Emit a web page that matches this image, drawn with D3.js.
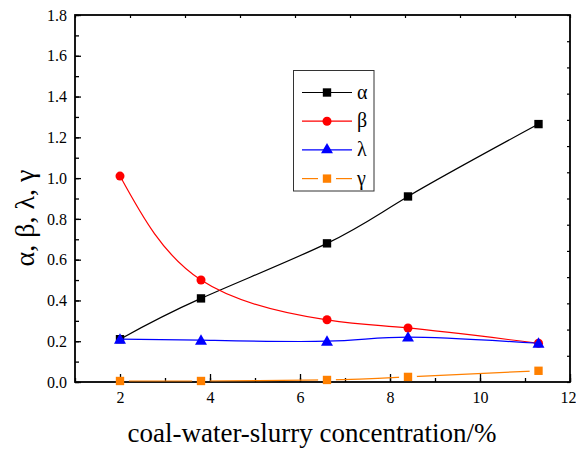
<!DOCTYPE html>
<html><head><meta charset="utf-8">
<script src="https://cdn.jsdelivr.net/npm/d3@7"></script>
</head>
<body style="margin:0;padding:0;background:#fff;"><svg id="c" width="576" height="452" style="display:block" font-family="Liberation Serif"></svg>
<script>
const xs = [2, 3.8, 6.6, 8.4, 11.3];
const alpha = [0.21, 0.41, 0.68, 0.91, 1.265];
const beta = [1.01, 0.50, 0.305, 0.265, 0.19];
const lambda = [0.21, 0.205, 0.20, 0.22, 0.19];
const gamma = [0.005, 0.005, 0.01, 0.025, 0.055];
const seriesNames = ["α", "β", "λ", "γ"];
const seriesColors = ["#000000", "#ff0000", "#0000ff", "#ff8000"];
const seriesSymbols = ["square", "circle", "triangle", "square"];
const xTicks = [2, 4, 6, 8, 10, 12];
const yTicks = [0.0, 0.2, 0.4, 0.6, 0.8, 1.0, 1.2, 1.4, 1.6, 1.8];
const xTitle = "coal-water-slurry concentration/%";
const yTitle = "α, β, λ, γ";

const FONT = "Liberation Serif";
const svg = d3.select("#c");
const L = 75, R = 570, T = 15, B = 382;
const x = d3.scaleLinear().domain([1, 12]).range([L, R]);
const y = d3.scaleLinear().domain([0, 1.8]).range([B, T]);

function setFont(sel) {
  sel.attr("font-family", FONT).style("font-family", `"${FONT}"`);
}

// bottom axis
const gx = svg.append("g").attr("transform", `translate(0,${B})`);
gx.call(d3.axisBottom(x).tickValues(d3.range(1, 12.01, 1)).tickSize(-4).tickFormat(""));
gx.append("g").call(d3.axisBottom(x).tickValues(xTicks).tickSize(-8).tickFormat(d => d));
gx.selectAll(".domain").remove();
setFont(gx); setFont(gx.selectAll("g"));
gx.selectAll("line").attr("stroke", "#000").attr("stroke-width", 1.3);
gx.selectAll("text").attr("font-size", 16).attr("fill", "#000").attr("y", 10).attr("dy", "0.71em")
  .attr("dx", d => d === 12 ? -2 : 0).call(setFont);

// left axis
const gy = svg.append("g").attr("transform", `translate(${L},0)`);
gy.call(d3.axisLeft(y).tickValues(d3.range(0, 1.81, 0.1)).tickSize(-4).tickFormat(""));
gy.append("g").call(d3.axisLeft(y).tickValues(yTicks).tickSize(-6).tickFormat(d3.format(".1f")));
gy.selectAll(".domain").remove();
setFont(gy); setFont(gy.selectAll("g"));
gy.selectAll("line").attr("stroke", "#000").attr("stroke-width", 1.3);
gy.selectAll("text").attr("font-size", 16).attr("fill", "#000").attr("x", -8).call(setFont);

// top axis (independent minor ticks)
const xt = d3.scaleLinear().domain([0, 9]).range([L, R]);
svg.append("g").attr("transform", `translate(0,${T})`)
  .call(d3.axisTop(xt).ticks(9).tickSize(-3).tickFormat(""))
  .call(g => g.select(".domain").remove())
  .selectAll("line").attr("stroke", "#000").attr("stroke-width", 1.2);
// right axis
const yr = d3.scaleLinear().domain([0, 14]).range([B, T]);
svg.append("g").attr("transform", `translate(${R},0)`)
  .call(d3.axisRight(yr).tickValues(d3.range(0, 15)).tickSize(-3).tickFormat(""))
  .call(g => g.select(".domain").remove())
  .selectAll("line").attr("stroke", "#000").attr("stroke-width", 1.2);

// frame
svg.append("rect").attr("x", L).attr("y", T).attr("width", R - L).attr("height", B - T)
  .attr("fill", "none").attr("stroke", "#000").attr("stroke-width", 1.8);

// data
const allSeries = [alpha, beta, lambda, gamma];
const line = d3.line().x(d => x(d[0])).y(d => y(d[1])).curve(d3.curveNatural);
const symSize = {square: 70, circle: 64, triangle: 62};

// mask for gamma line (gaps around markers)
const defs = svg.append("defs");
const mask = defs.append("mask").attr("id", "gapmask").attr("maskUnits", "userSpaceOnUse")
  .attr("x", 0).attr("y", 0).attr("width", 576).attr("height", 452);
mask.append("rect").attr("width", 576).attr("height", 452).attr("fill", "#fff");
mask.selectAll("circle").data(xs.map((v, i) => [v, gamma[i]])).enter().append("circle")
  .attr("cx", d => x(d[0])).attr("cy", d => y(d[1])).attr("r", 9).attr("fill", "#000");

allSeries.forEach((vals, si) => {
  const pts = xs.map((v, i) => [v, vals[i]]);
  const g = svg.append("g");
  const p = g.append("path").datum(pts).attr("d", line).attr("fill", "none")
    .attr("stroke", seriesColors[si]).attr("stroke-width", 1.2);
  if (si === 3) p.attr("mask", "url(#gapmask)");
  const sym = seriesSymbols[si];
  const st = sym === "square" ? d3.symbolSquare : sym === "circle" ? d3.symbolCircle : d3.symbolTriangle;
  g.selectAll("path.m").data(pts).enter().append("path").attr("class", "m")
    .attr("d", d3.symbol().type(st).size(symSize[sym]))
    .attr("transform", d => `translate(${x(d[0])},${y(d[1]) + (sym === "triangle" ? 1 : 0)})`)
    .attr("fill", seriesColors[si]);
});

// legend
const lg = svg.append("g");
lg.append("rect").attr("x", 293.5).attr("y", 70.5).attr("width", 80.5).attr("height", 120.5)
  .attr("fill", "#fff").attr("stroke", "#333").attr("stroke-width", 1);
seriesNames.forEach((nm, i) => {
  const yy = 92.5 + i * 28.7;
  const c = seriesColors[i];
  if (i === 3) {
    lg.append("line").attr("x1", 302).attr("x2", 318).attr("y1", yy).attr("y2", yy).attr("stroke", c).attr("stroke-width", 1.2);
    lg.append("line").attr("x1", 336).attr("x2", 352).attr("y1", yy).attr("y2", yy).attr("stroke", c).attr("stroke-width", 1.2);
  } else {
    lg.append("line").attr("x1", 302).attr("x2", 352).attr("y1", yy).attr("y2", yy).attr("stroke", c).attr("stroke-width", 1.2);
  }
  const sym = seriesSymbols[i];
  const st = sym === "square" ? d3.symbolSquare : sym === "circle" ? d3.symbolCircle : d3.symbolTriangle;
  lg.append("path").attr("d", d3.symbol().type(st).size(symSize[sym]))
    .attr("transform", `translate(327,${yy})`).attr("fill", c);
  lg.append("text").attr("x", 357).attr("y", yy).attr("dy", "0.3em").attr("font-size", 20)
    .attr("fill", "#000").call(setFont).text(nm);
});

// titles
svg.append("text").attr("x", 312).attr("y", 442).attr("text-anchor", "middle")
  .attr("font-size", 27).attr("fill", "#000").call(setFont).text(xTitle);
svg.append("text").attr("transform", "translate(34,218) rotate(-90)").attr("text-anchor", "middle")
  .attr("font-size", 28).attr("fill", "#000").call(setFont).text(yTitle);
</script></body></html>
